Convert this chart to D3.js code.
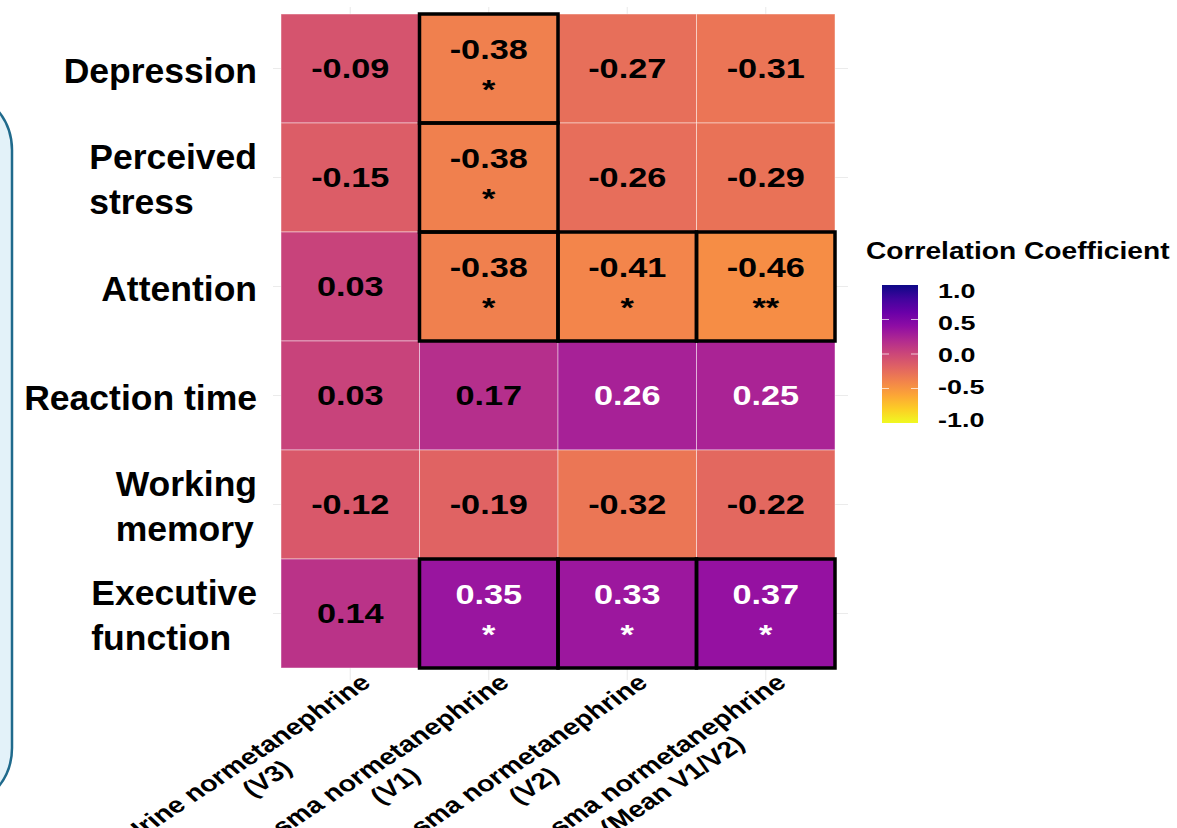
<!DOCTYPE html>
<html>
<head>
<meta charset="utf-8">
<script src="https://cdn.jsdelivr.net/npm/d3@7"></script>
<style>
    body { margin: 0; background: #fff; }
    text { font-family: "Liberation Sans", Arial, sans-serif; font-weight: bold; }
</style>
</head>
<body>
<div id="chart"></div>
<script>
const measures = ["Depression", "Perceived stress", "Attention", "Reaction time", "Working memory", "Executive function"];
const measureLines = [["Depression"], ["Perceived", "stress"], ["Attention"], ["Reaction time"], ["Working", "memory"], ["Executive", "function"]];
const markers = ["Urine V3", "Plasma V1", "Plasma V2", "Plasma Mean"];
const markerLines = [
    ["Urine normetanephrine", "(V3)"],
    ["Plasma normetanephrine", "(V1)"],
    ["Plasma normetanephrine", "(V2)"],
    ["Plasma normetanephrine", "(Mean V1/V2)"]
];
const coefficients = [
    [-0.09, -0.38, -0.27, -0.31],
    [-0.15, -0.38, -0.26, -0.29],
    [0.03, -0.38, -0.41, -0.46],
    [0.03, 0.17, 0.26, 0.25],
    [-0.12, -0.19, -0.32, -0.22],
    [0.14, 0.35, 0.33, 0.37]
];
const stars = [
    ["", "*", "", ""],
    ["", "*", "", ""],
    ["", "*", "*", "**"],
    ["", "", "", ""],
    ["", "", "", ""],
    ["", "*", "*", "*"]
];
const legendTicks = [1.0, 0.5, 0.0, -0.5, -1.0];

const width = 1177;
const height = 828;
const sx = 1.27;

const cells = [];
measures.forEach((m, i) => markers.forEach((k, j) => cells.push({
    measure: m,
    marker: k,
    r: coefficients[i][j],
    sig: stars[i][j]
})));

const svg = d3.select("#chart").append("svg").attr("width", width).attr("height", height);

svg.append("rect").attr("x", -120).attr("y", 88).attr("width", 132).attr("height", 722).attr("rx", 62)
    .attr("fill", "#e3f2f9").attr("stroke", "#1f6a8c").attr("stroke-width", 2.5);

const xScale = d3.scaleBand().domain(markers).range([281, 835]);
const yScale = d3.scaleBand().domain(measures).range([14, 668]);
const color = v => d3.interpolatePlasma((1 - v) / 2);

const grid = svg.append("g").attr("stroke", "#ebebeb").attr("stroke-width", 1.1);
grid.selectAll("line.v").data(markers).enter().append("line").attr("class", "v")
    .attr("x1", d => xScale(d) + xScale.bandwidth() / 2).attr("x2", d => xScale(d) + xScale.bandwidth() / 2)
    .attr("y1", 7).attr("y2", 680);
grid.selectAll("line.h").data(measures).enter().append("line").attr("class", "h")
    .attr("y1", d => yScale(d) + yScale.bandwidth() / 2).attr("y2", d => yScale(d) + yScale.bandwidth() / 2)
    .attr("x1", 273).attr("x2", 848);

svg.append("g").selectAll("rect").data(cells).enter().append("rect")
    .attr("x", d => xScale(d.marker)).attr("y", d => yScale(d.measure))
    .attr("width", xScale.bandwidth()).attr("height", yScale.bandwidth())
    .attr("fill", d => color(d.r))
    .attr("stroke", "white").attr("stroke-opacity", 0.45).attr("stroke-width", 1);

svg.append("g").selectAll("rect").data(cells.filter(d => d.sig !== "")).enter().append("rect")
    .attr("x", d => xScale(d.marker)).attr("y", d => yScale(d.measure))
    .attr("width", xScale.bandwidth()).attr("height", yScale.bandwidth())
    .attr("fill", "none").attr("stroke", "black").attr("stroke-width", 3.5);

const labels = svg.append("g").selectAll("g").data(cells).enter().append("g")
    .attr("transform", d => `translate(${xScale(d.marker) + xScale.bandwidth() / 2}, ${yScale(d.measure) + yScale.bandwidth() / 2}) scale(${sx}, 1)`)
    .attr("fill", d => d.r > 0.2 ? "white" : "black")
    .attr("font-size", 27).attr("text-anchor", "middle");
labels.append("text").attr("y", d => d.sig ? -10 : 9.7).text(d => d.r.toFixed(2));
labels.filter(d => d.sig).append("text").attr("y", 31).text(d => d.sig);

measureLines.forEach((lines, i) => {
    const g = svg.append("g").attr("font-size", 35.5);
    const cy = yScale(measures[i]) + yScale.bandwidth() / 2;
    const lh = 45;
    const texts = lines.map((t, k) => g.append("text").attr("y", cy + 14 + (k - (lines.length - 1) / 2) * lh).text(t));
    const w = d3.max(texts, t => t.node().getComputedTextLength());
    texts.forEach(t => t.attr("x", 257 - w));
});

markerLines.forEach((lines, j) => {
    const cx = xScale(markers[j]) + xScale.bandwidth() / 2;
    const g = svg.append("g").attr("font-size", 22.5)
        .attr("transform", `translate(${cx + 22}, 685) scale(${sx}, 1) rotate(-40)`);
    const first = g.append("text").attr("text-anchor", "end").text(lines[0]);
    const w = first.node().getComputedTextLength();
    g.append("text").attr("text-anchor", "middle").attr("x", -w / 2).attr("y", 26).text(lines[1]);
});

const defs = svg.append("defs");
const grad = defs.append("linearGradient").attr("id", "plasma").attr("x1", 0).attr("x2", 0).attr("y1", 0).attr("y2", 1);
d3.range(0, 1.001, 0.1).forEach(t => grad.append("stop").attr("offset", t).attr("stop-color", d3.interpolatePlasma(t)));

const legendScale = d3.scaleLinear().domain([1, -1]).range([285, 423]);
const legendLabelScale = d3.scaleLinear().domain([1, -1]).range([290.5, 419.5]);
const legend = svg.append("g");
legend.append("g").attr("transform", "translate(866, 259) scale(1.225, 1)")
    .append("text").attr("font-size", 23).text("Correlation Coefficient");
legend.append("rect").attr("x", 882).attr("y", 285).attr("width", 36).attr("height", 138).attr("fill", "url(#plasma)");
legend.selectAll("line.tl").data(legendTicks.slice(1, 4)).enter().append("line")
    .attr("x1", 882).attr("x2", 889).attr("y1", d => legendScale(d)).attr("y2", d => legendScale(d))
    .attr("stroke", "white").attr("stroke-opacity", 0.7);
legend.selectAll("line.tr").data(legendTicks.slice(1, 4)).enter().append("line")
    .attr("x1", 911).attr("x2", 918).attr("y1", d => legendScale(d)).attr("y2", d => legendScale(d))
    .attr("stroke", "white").attr("stroke-opacity", 0.7);
legend.selectAll("g.tick").data(legendTicks).enter().append("g")
    .attr("transform", d => `translate(938, ${legendLabelScale(d) + 7}) scale(1.38, 1)`)
    .append("text").attr("font-size", 19.5).text(d => d.toFixed(1));
</script>
</body>
</html>
